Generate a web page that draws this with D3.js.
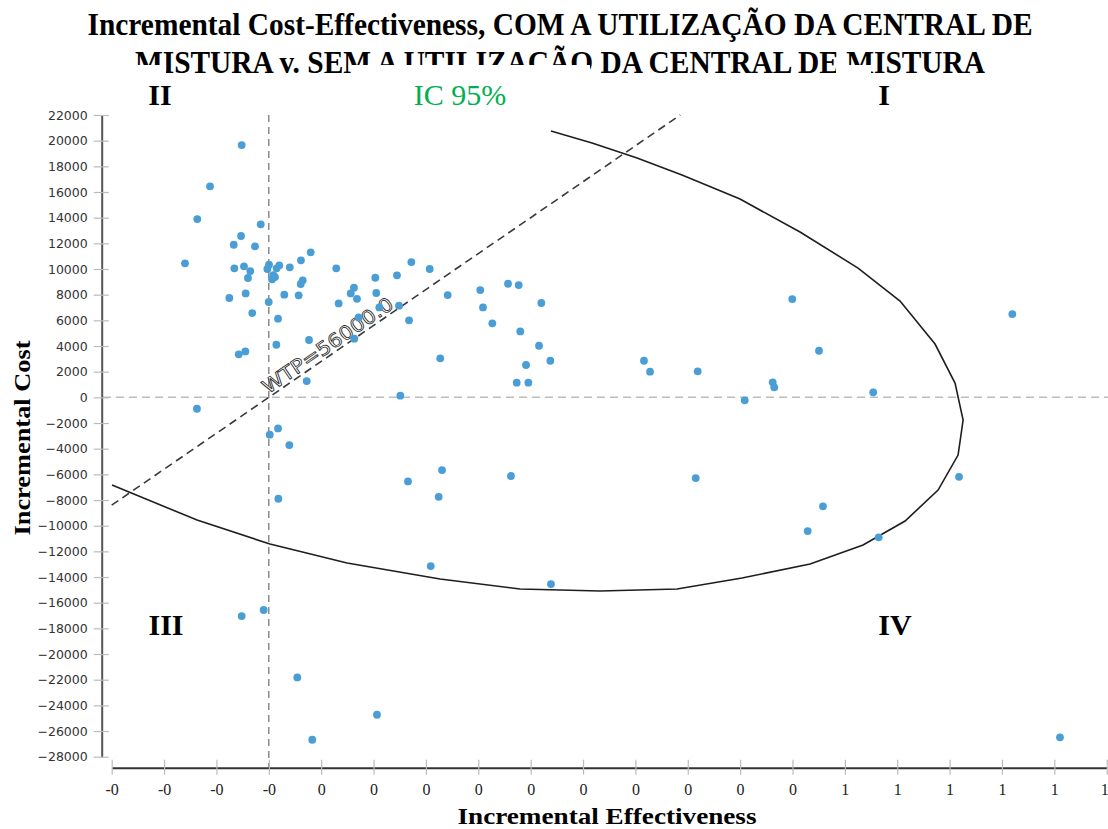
<!DOCTYPE html>
<html>
<head>
<meta charset="utf-8">
<script src="https://cdn.jsdelivr.net/npm/d3@7"></script>
<style>
  body { margin: 0; background: #fff; }
  svg { display: block; }
</style>
</head>
<body>
<div id="chart"></div>
<script>
// incremental effectiveness / incremental cost pairs (bootstrap replicates)
const effect = [
  -0.0259, -0.0561, -0.0683, -0.0077, -0.0265, -0.0335, -0.0132, -0.0800, -0.0329, -0.0237,
  -0.0177, -0.0199, 0.0002, -0.0014, 0.0100, 0.0200, 0.0043, 0.0031, 0.0400, 0.0307,
  0.0324, 0.0305, 0.0148, 0.0285, -0.0221, -0.0377, -0.0001, -0.0158, 0.0088, 0.0384,
  0.0072, -0.0287, -0.0224, 0.0362, 0.1256, -0.0686, 0.0644, 0.0667, 0.0782, 0.0813,
  0.0842, 0.0858, 0.0816, 0.1017, 0.1026, 0.1055, 0.1224, 0.1243, 0.1361, 0.1339,
  0.1536, 0.1708, 0.1637, 0.2019, 0.2045, 0.2134, 0.2284, 0.2386, 0.2602, 0.2401,
  0.2580, 0.2456, 0.2688, 0.2367, 0.2478, 0.3582, 0.3640, 0.4095, 0.4544, 0.4811,
  0.4826, 0.4998, 0.5253, 0.7099, 0.5771, 0.6590, 0.4076, 0.5291, 0.5145, 0.5823,
  0.0009, 0.0088, 0.0196, 0.1654, 0.1329, 0.1622, 0.0091, 0.1546, -0.0259, -0.0049,
  0.0272, 0.1033, 0.0415, 0.2694, 0.7554, 0.2312, 0.0075, 0.0059
];
const cost = [
  19660, 16440, 13890, 13480, 12570, 11890, 11770, 10440, 10050, 10210,
  9840, 9300, 10330, 10000, 10290, 10130, 9530, 9200, 11300, 10680,
  9120, 8830, 8000, 7950, 8100, 7740, 7430, 6570, 6130, 4470,
  4100, 3350, 3580, 1270, 130, -890, 10050, 7320, 8100, 8540,
  7680, 6230, 4570, 9320, 8130, 7010, 9510, 7140, 10540, 6000,
  10000, 7970, 3040, 8360, 7010, 5770, 8850, 8750, 7350, 5140,
  4020, 2520, 2850, 1140, 1140, 2850, 2000, 2030, -230, 1170,
  780, 7660, 3630, 6490, 390, -6190, -6290, -8490, -10420, -10910,
  -2910, -2420, -3720, -5670, -6550, -7750, -7900, -13150, -17040, -16570,
  -21820, -24730, -26680, -14550, -26490, -6130, 10050, 9370
];

// 95% confidence ellipse outline (open curve)
const ellipseEffect = [
  0.2694, 0.3086, 0.3516, 0.3945, 0.4499, 0.5072, 0.5626, 0.6027, 0.6361, 0.6552,
  0.6629, 0.6581, 0.6390, 0.6075, 0.5674, 0.5168, 0.4518, 0.3898, 0.3163, 0.2399,
  0.1635, 0.0747, 0.0011, -0.0685, -0.1497
];
const ellipseCost = [
  20750, 19815, 18646, 17322, 15452, 12880, 10075, 7504, 4153, 1114,
  -1769, -4496, -7223, -9639, -11509, -12989, -14080, -14937, -15093, -14937,
  -14158, -12911, -11431, -9561, -6834
];

const wtp = 56000;

const yTicks = d3.range(-28000, 22001, 2000);
const xTicks = d3.range(0, 20).map(i => -0.15 + i * 0.05);
const xTickLabels = ["-0", "-0", "-0", "-0", "0", "0", "0", "0", "0", "0",
                     "0", "0", "0", "0", "1", "1", "1", "1", "1", "1"];

const titleLines = [
  "Incremental Cost-Effectiveness, COM A UTILIZAÇÃO DA CENTRAL DE",
  "MISTURA v. SEM A UTILIZAÇÃO DA CENTRAL DE MISTURA"
];

const width = 1108, height = 829;
const serif = "'Liberation Serif', 'Times New Roman', serif";

const svg = d3.select("#chart").append("svg")
  .attr("width", width)
  .attr("height", height);

const x = d3.scaleLinear().domain([-0.15, 0.80]).range([111.7, 1106.7]);
const y = d3.scaleLinear().domain([-28000, 22000]).range([756.7, 115]);

// title
svg.append("text")
  .attr("x", 560).attr("y", 35)
  .attr("text-anchor", "middle")
  .attr("font-family", serif).attr("font-weight", "bold").attr("font-size", 31)
  .attr("textLength", 945).attr("lengthAdjust", "spacingAndGlyphs")
  .text(titleLines[0]);
svg.append("text")
  .attr("x", 560).attr("y", 73)
  .attr("text-anchor", "middle")
  .attr("font-family", serif).attr("font-weight", "bold").attr("font-size", 31)
  .attr("textLength", 850).attr("lengthAdjust", "spacingAndGlyphs")
  .text(titleLines[1]);

// white boxes of the quadrant labels hide the bottom of the 2nd title line
[[100, 166], [352, 590], [836, 871]].forEach(([a, b]) => {
  svg.append("rect").attr("x", a).attr("y", 65).attr("width", b - a).attr("height", 45)
    .attr("fill", "#fff");
});

// reference lines
svg.append("line")
  .attr("x1", 103).attr("x2", width)
  .attr("y1", y(0)).attr("y2", y(0))
  .attr("stroke", "#bdbdbd").attr("stroke-width", 1.5).attr("stroke-dasharray", "8,5");
svg.append("line")
  .attr("x1", x(0)).attr("x2", x(0))
  .attr("y1", y(22000)).attr("y2", 768)
  .attr("stroke", "#7a7a7a").attr("stroke-width", 1.3).attr("stroke-dasharray", "7,5");

// willingness-to-pay threshold
const wtpEnd = 22000 / wtp;
svg.append("line")
  .attr("x1", x(-0.15)).attr("y1", y(-0.15 * wtp))
  .attr("x2", x(wtpEnd)).attr("y2", y(22000))
  .attr("stroke", "#3a3a3a").attr("stroke-width", 1.6).attr("stroke-dasharray", "8,5");

const ang = Math.atan2(y(wtp * 0.1) - y(0), x(0.1) - x(0)) * 180 / Math.PI;
svg.append("text")
  .attr("transform", `translate(${x(0)},${y(0)}) rotate(${ang}) translate(1,-3)`)
  .attr("font-family", "'DejaVu Sans', Verdana, sans-serif").attr("font-size", 19)
  .attr("textLength", 154).attr("lengthAdjust", "spacingAndGlyphs")
  .attr("fill", "#fff").attr("stroke", "#2a2a2a").attr("stroke-width", 0.8)
  .text("WTP=" + wtp.toFixed(1));

// confidence ellipse
const line = d3.line().x(d => x(d[0])).y(d => y(d[1]));
svg.append("path")
  .attr("d", line(d3.zip(ellipseEffect, ellipseCost)))
  .attr("fill", "none").attr("stroke", "#1e1e1e").attr("stroke-width", 1.6);

// points
svg.append("g")
  .selectAll("circle")
  .data(d3.zip(effect, cost))
  .join("circle")
  .attr("cx", d => x(d[0]))
  .attr("cy", d => y(d[1]))
  .attr("r", 3.9)
  .attr("fill", "#4a9ed6");

// y axis
const yAxis = svg.append("g")
  .attr("transform", `translate(101.7,0)`)
  .call(d3.axisLeft(y).tickValues(yTicks).tickSizeInner(8).tickSizeOuter(0).tickPadding(6).tickFormat(d3.format("d")));
yAxis.select(".domain").attr("stroke", "#555").attr("stroke-width", 2);
yAxis.selectAll(".tick line").attr("x1", 7).attr("stroke", "#bbb").attr("stroke-width", 1.2);
yAxis.selectAll(".tick text")
  .attr("font-family", "'DejaVu Sans', Verdana, sans-serif").attr("font-size", 12.5).attr("fill", "#333");

// x axis
const xAxis = svg.append("g")
  .attr("transform", `translate(0,767.7)`)
  .call(d3.axisBottom(x).tickValues(xTicks).tickSizeInner(7).tickSizeOuter(0).tickPadding(9)
    .tickFormat((d, i) => xTickLabels[i]));
xAxis.select(".domain").attr("stroke", "#333").attr("stroke-width", 2);
xAxis.selectAll(".tick line").attr("y1", -8).attr("stroke", "#bbb").attr("stroke-width", 1.2);
xAxis.selectAll(".tick text")
  .attr("font-family", serif).attr("font-size", 16).attr("fill", "#222");
// keep the last label inside the window
xAxis.selectAll(".tick text").filter((d, i) => i === xTicks.length - 1).attr("dx", -2.5);

// axis titles
svg.append("text")
  .attr("transform", "translate(30,438) rotate(-90)")
  .attr("text-anchor", "middle")
  .attr("font-family", serif).attr("font-weight", "bold").attr("font-size", 24)
  .attr("textLength", 195).attr("lengthAdjust", "spacingAndGlyphs")
  .text("Incremental Cost");
svg.append("text")
  .attr("x", 607).attr("y", 824)
  .attr("text-anchor", "middle")
  .attr("font-family", serif).attr("font-weight", "bold").attr("font-size", 24)
  .attr("textLength", 299).attr("lengthAdjust", "spacingAndGlyphs")
  .text("Incremental Effectiveness");

// quadrant labels
const quadLabels = [
  { t: "II", x: 160, y: 105, bold: true, c: "#000" },
  { t: "IC 95%", x: 460, y: 105, bold: false, c: "#00b050" },
  { t: "I", x: 884, y: 105, bold: true, c: "#000" },
  { t: "III", x: 166, y: 635, bold: true, c: "#000" },
  { t: "IV", x: 895, y: 635, bold: true, c: "#000" }
];
svg.append("g").selectAll("text")
  .data(quadLabels)
  .join("text")
  .attr("x", d => d.x).attr("y", d => d.y)
  .attr("text-anchor", "middle")
  .attr("font-family", serif).attr("font-size", 30)
  .attr("font-weight", d => d.bold ? "bold" : "normal")
  .attr("fill", d => d.c)
  .text(d => d.t);
</script>
</body>
</html>
